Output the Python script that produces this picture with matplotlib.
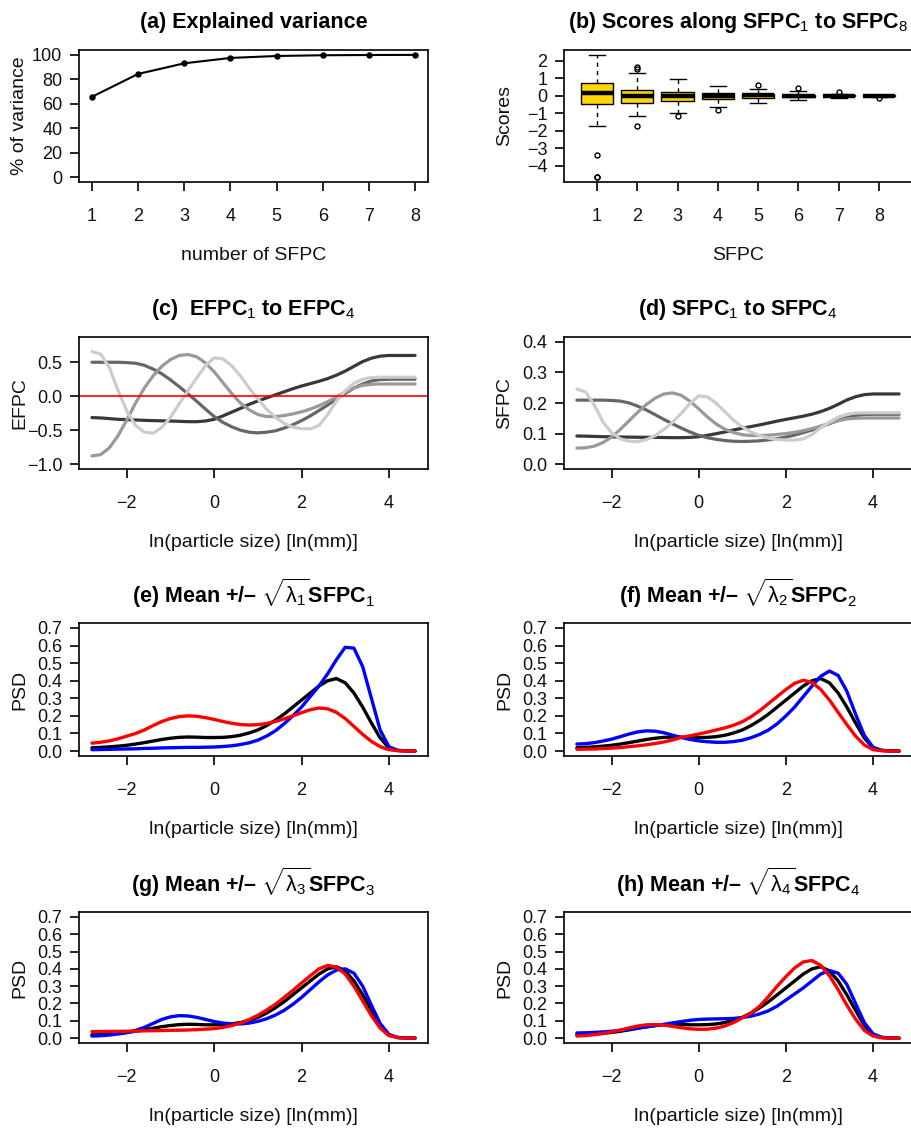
import matplotlib
matplotlib.use('Agg')
import matplotlib.pyplot as plt
from matplotlib.ticker import FuncFormatter
from matplotlib.transforms import offset_copy

plt.rcParams['font.family'] = ['Liberation Sans', 'DejaVu Sans']
plt.rcParams['mathtext.fontset'] = 'custom'
plt.rcParams['mathtext.rm'] = 'Liberation Sans'
plt.rcParams['mathtext.it'] = 'Liberation Sans:italic'
plt.rcParams['mathtext.bf'] = 'Liberation Sans:bold'
plt.rcParams['mathtext.default'] = 'rm'

# ---------------- data ----------------
N_SFPC = [1, 2, 3, 4, 5, 6, 7, 8]
VAR_EXPLAINED = [65.7, 84.4, 93.1, 97.5, 99.1, 99.7, 99.9, 100.0]

BOX_Q1 = [-0.47, -0.40, -0.31, -0.20, -0.12, -0.06, -0.035, -0.02]
BOX_MED = [0.13, -0.02, -0.02, 0.0, 0.02, 0.0, 0.0, 0.0]
BOX_Q3 = [0.74, 0.33, 0.24, 0.18, 0.10, 0.06, 0.035, 0.02]
WHIS_LO = [-1.75, -1.16, -1.01, -0.66, -0.40, -0.22, -0.10, -0.06]
WHIS_HI = [2.33, 1.28, 0.95, 0.53, 0.36, 0.25, 0.12, 0.06]
OUTLIERS = [[-3.37, -4.62, -4.64], [1.50, 1.64, -1.73], [-1.13], [-0.82],
            [0.61], [0.44], [0.20], [-0.15]]

XG = [-2.8, -2.6, -2.4, -2.2, -2.0, -1.8, -1.6, -1.4, -1.2, -1.0,
      -0.8, -0.6, -0.4, -0.2, 0.0, 0.2, 0.4, 0.6, 0.8, 1.0,
      1.2, 1.4, 1.6, 1.8, 2.0, 2.2, 2.4, 2.6, 2.8, 3.0,
      3.2, 3.4, 3.6, 3.8, 4.0, 4.2, 4.4, 4.6]

EFPC1 = [-0.315, -0.32, -0.33, -0.34, -0.345, -0.35, -0.355, -0.36, -0.362, -0.365,
         -0.37, -0.375, -0.375, -0.365, -0.34, -0.29, -0.235, -0.18, -0.12, -0.07,
         -0.025, 0.02, 0.065, 0.11, 0.15, 0.185, 0.22, 0.26, 0.31, 0.37,
         0.44, 0.51, 0.56, 0.59, 0.6, 0.6, 0.6, 0.6]
EFPC2 = [0.5, 0.5, 0.5, 0.5, 0.495, 0.485, 0.455, 0.40, 0.33, 0.24,
         0.14, 0.035, -0.075, -0.19, -0.30, -0.385, -0.45, -0.50, -0.53, -0.54,
         -0.53, -0.51, -0.47, -0.42, -0.36, -0.29, -0.21, -0.13, -0.04, 0.04,
         0.12, 0.18, 0.225, 0.245, 0.25, 0.25, 0.25, 0.25]
EFPC3 = [-0.88, -0.86, -0.76, -0.58, -0.35, -0.1, 0.12, 0.3, 0.44, 0.54,
         0.6, 0.615, 0.58, 0.49, 0.36, 0.2, 0.04, -0.1, -0.2, -0.27,
         -0.3, -0.3, -0.285, -0.26, -0.23, -0.19, -0.14, -0.08, -0.01, 0.06,
         0.12, 0.16, 0.175, 0.18, 0.18, 0.18, 0.18, 0.18]
EFPC4 = [0.66, 0.62, 0.42, 0.08, -0.22, -0.43, -0.53, -0.545, -0.46, -0.31,
         -0.11, 0.08, 0.27, 0.45, 0.565, 0.55, 0.45, 0.3, 0.12, -0.04,
         -0.19, -0.31, -0.40, -0.455, -0.48, -0.48, -0.43, -0.27, -0.07, 0.08,
         0.19, 0.25, 0.275, 0.28, 0.28, 0.28, 0.28, 0.28]

SFPC1 = [0.092, 0.0915, 0.0906, 0.0897, 0.0892, 0.0888, 0.0884, 0.0879, 0.0877, 0.0875,
         0.0870, 0.0866, 0.0866, 0.0875, 0.0897, 0.0943, 0.0996, 0.1052, 0.1118, 0.1175,
         0.1229, 0.1285, 0.1345, 0.1407, 0.1464, 0.1516, 0.157, 0.1634, 0.1718, 0.1824,
         0.1957, 0.2098, 0.2206, 0.2273, 0.2296, 0.2296, 0.2296, 0.2296]
SFPC2 = [0.2094, 0.2094, 0.2094, 0.2094, 0.2083, 0.2062, 0.2002, 0.1895, 0.1767, 0.1615,
         0.1461, 0.1315, 0.1178, 0.1050, 0.0941, 0.0864, 0.0810, 0.0771, 0.0748, 0.0740,
         0.0748, 0.0763, 0.0794, 0.0834, 0.0886, 0.0950, 0.1030, 0.1115, 0.1220, 0.1322,
         0.1432, 0.1521, 0.1590, 0.1623, 0.1631, 0.1631, 0.1631, 0.1631]
SFPC3 = [0.0523, 0.0533, 0.0589, 0.0705, 0.0888, 0.1140, 0.1420, 0.1701, 0.1957, 0.2162,
         0.2296, 0.2331, 0.2250, 0.2057, 0.1806, 0.1539, 0.1312, 0.1140, 0.1032, 0.0962,
         0.0934, 0.0934, 0.0948, 0.0971, 0.1001, 0.1042, 0.1095, 0.1163, 0.1247, 0.1338,
         0.1420, 0.1479, 0.1501, 0.1509, 0.1509, 0.1509, 0.1509, 0.1509]
SFPC4 = [0.2457, 0.2361, 0.1933, 0.1376, 0.1019, 0.0826, 0.0748, 0.0736, 0.0802, 0.0931,
         0.1138, 0.1376, 0.1664, 0.1991, 0.2234, 0.2201, 0.1991, 0.1714, 0.1432, 0.1220,
         0.1050, 0.0931, 0.0851, 0.0806, 0.0786, 0.0786, 0.0826, 0.0969, 0.1184, 0.1376,
         0.1536, 0.1631, 0.1672, 0.1680, 0.1680, 0.1680, 0.1680, 0.1680]

MEAN_PSD = [0.019, 0.021, 0.024, 0.028, 0.033, 0.04, 0.048, 0.057, 0.066, 0.073,
            0.078, 0.08, 0.079, 0.077, 0.077, 0.078, 0.082, 0.09, 0.103, 0.12,
            0.145, 0.175, 0.21, 0.25, 0.29, 0.33, 0.37, 0.40, 0.412, 0.388,
            0.33, 0.25, 0.16, 0.075, 0.018, 0.004, 0.001, 0.0]

PLUS_PSD = [  # mean + sqrt(lambda_k) SFPC_k  (blue)
    [0.008, 0.009, 0.01, 0.011, 0.012, 0.013, 0.015, 0.016, 0.018, 0.019,
     0.02, 0.021, 0.021, 0.022, 0.023, 0.026, 0.03, 0.037, 0.047, 0.062,
     0.085, 0.115, 0.155, 0.2, 0.25, 0.31, 0.37, 0.44, 0.52, 0.59,
     0.585, 0.48, 0.3, 0.12, 0.025, 0.004, 0.001, 0.0],
    [0.04, 0.042, 0.048, 0.057, 0.068, 0.082, 0.097, 0.109, 0.115, 0.113,
     0.104, 0.09, 0.077, 0.066, 0.058, 0.053, 0.05, 0.05, 0.054, 0.062,
     0.076, 0.095, 0.12, 0.155, 0.2, 0.25, 0.31, 0.37, 0.425, 0.455,
     0.43, 0.34, 0.21, 0.09, 0.022, 0.004, 0.001, 0.0],
    [0.012, 0.014, 0.018, 0.024, 0.032, 0.045, 0.062, 0.085, 0.108, 0.123,
     0.13, 0.128, 0.12, 0.108, 0.096, 0.087, 0.082, 0.082, 0.087, 0.097,
     0.112, 0.133, 0.16, 0.195, 0.235, 0.28, 0.325, 0.365, 0.393, 0.4,
     0.375, 0.3, 0.19, 0.085, 0.022, 0.004, 0.001, 0.0],
    [0.03, 0.031, 0.033, 0.036, 0.04, 0.045, 0.051, 0.058, 0.065, 0.072,
     0.08, 0.088, 0.096, 0.103, 0.108, 0.11, 0.111, 0.112, 0.114, 0.119,
     0.127, 0.14, 0.158, 0.185, 0.22, 0.255, 0.29, 0.33, 0.37, 0.39,
     0.375, 0.31, 0.2, 0.09, 0.025, 0.005, 0.001, 0.0],
]
MINUS_PSD = [  # mean - sqrt(lambda_k) SFPC_k  (red)
    [0.045, 0.05, 0.058, 0.07, 0.085, 0.1, 0.12, 0.145, 0.168, 0.185,
     0.196, 0.2, 0.198, 0.19, 0.18, 0.168, 0.158, 0.151, 0.148, 0.15,
     0.157, 0.168, 0.183, 0.2, 0.218, 0.235, 0.245, 0.24, 0.22, 0.185,
     0.14, 0.095, 0.055, 0.025, 0.008, 0.002, 0.0, 0.0],
    [0.01, 0.011, 0.012, 0.014, 0.017, 0.02, 0.025, 0.03, 0.036, 0.043,
     0.052, 0.063, 0.078, 0.087, 0.097, 0.108, 0.12, 0.132, 0.147, 0.167,
     0.195, 0.23, 0.27, 0.31, 0.35, 0.385, 0.403, 0.39, 0.35, 0.29,
     0.22, 0.15, 0.085, 0.035, 0.008, 0.002, 0.0, 0.0],
    [0.038, 0.038, 0.039, 0.039, 0.04, 0.041, 0.042, 0.043, 0.044, 0.045,
     0.046, 0.047, 0.049, 0.052, 0.055, 0.062, 0.072, 0.087, 0.107, 0.132,
     0.162, 0.195, 0.235, 0.275, 0.318, 0.36, 0.4, 0.42, 0.41, 0.37,
     0.3, 0.215, 0.13, 0.058, 0.015, 0.003, 0.0, 0.0],
    [0.012, 0.015, 0.02, 0.027, 0.036, 0.047, 0.059, 0.07, 0.077, 0.078,
     0.075, 0.068, 0.06, 0.054, 0.051, 0.052, 0.058, 0.07, 0.09, 0.117,
     0.145, 0.185, 0.24, 0.3, 0.355, 0.405, 0.44, 0.448, 0.42, 0.36,
     0.28, 0.19, 0.11, 0.045, 0.012, 0.002, 0.0, 0.0],
]

TITLES = ['(a) Explained variance',
          '(b) Scores along SFPC$_1$ to SFPC$_8$',
          '(c)  EFPC$_1$ to EFPC$_4$',
          '(d) SFPC$_1$ to SFPC$_4$',
          r'(e) Mean +/– $\sqrt{\lambda_1}$SFPC$_1$',
          r'(f) Mean +/– $\sqrt{\lambda_2}$SFPC$_2$',
          r'(g) Mean +/– $\sqrt{\lambda_3}$SFPC$_3$',
          r'(h) Mean +/– $\sqrt{\lambda_4}$SFPC$_4$']
XLAB_SIZE = 'ln(particle size) [ln(mm)]'
GREYS = ['#383838', '#666666', '#999999', '#CCCCCC']

# ---------------- layout ----------------
W, H = 911, 1131
fig = plt.figure(figsize=(W / 100, H / 100), dpi=100)

COLS = [(79, 428), (564, 912)]
ROWS = [(50, 182), (337, 469), (623, 756), (912, 1043)]
TITLE_GAP = [22, 22, 20, 20]

TICK_FS = 13
LAB_FS = 14
TITLE_FS = 15.5
LW_FRAME = 1.2


def make_ax(r, c):
    x0, x1 = COLS[c]
    y0, y1 = ROWS[r]
    return fig.add_axes([x0 / W, 1 - y1 / H, (x1 - x0) / W, (y1 - y0) / H])


def r_style(ax, r, title, xlabel, ylabel):
    for s in ax.spines.values():
        s.set_linewidth(LW_FRAME)
        s.set_color('black')
    ax.tick_params(direction='out', length=6.5, width=LW_FRAME, labelsize=TICK_FS,
                   color='black', labelcolor='#111111')
    ax.tick_params(axis='x', pad=12.5)
    ax.tick_params(axis='y', pad=5.5)
    t = offset_copy(ax.transAxes, fig=fig, y=TITLE_GAP[r], units='dots')
    ax.text(0.5, 1.0, title, transform=t, ha='center', va='baseline',
            fontsize=TITLE_FS, fontweight='bold')
    t = offset_copy(ax.transAxes, fig=fig, y=-78, units='dots')
    ax.text(0.5, 0.0, xlabel, transform=t, ha='center', va='baseline',
            fontsize=LAB_FS, color='#111111')
    t = offset_copy(ax.transAxes, fig=fig, x=-59, units='dots')
    ax.text(0.0, 0.5, ylabel, transform=t, ha='center', va='center',
            rotation=90, fontsize=LAB_FS, color='#111111')


def fmt1(v, pos):
    return f'{v:.1f}'.replace('-', '\u2212')


def r_lim(vals, ext=0.04):
    lo, hi = min(vals), max(vals)
    d = (hi - lo) * ext
    return lo - d, hi + d


XLIM = r_lim(XG)

# (a) explained variance
ax = make_ax(0, 0)
ax.plot(N_SFPC, VAR_EXPLAINED, color='black', lw=1.5, marker='o', ms=3.6,
        solid_capstyle='round')
ax.set_xlim(*r_lim(N_SFPC))
ax.set_ylim(*r_lim([0, 100]))
ax.set_xticks(N_SFPC)
ax.set_yticks([0, 20, 40, 60, 80, 100])
r_style(ax, 0, TITLES[0], 'number of SFPC', '% of variance')

# (b) boxplots of scores
ax = make_ax(0, 1)
stats = []
for i in range(len(N_SFPC)):
    stats.append(dict(q1=BOX_Q1[i], med=BOX_MED[i], q3=BOX_Q3[i],
                      whislo=WHIS_LO[i], whishi=WHIS_HI[i], fliers=OUTLIERS[i]))
ax.bxp(stats, positions=N_SFPC, widths=0.8, patch_artist=True, capwidths=0.4,
       boxprops=dict(facecolor='#FFD700', edgecolor='black', linewidth=1.0),
       medianprops=dict(color='black', linewidth=3.2, solid_capstyle='butt'),
       whiskerprops=dict(color='black', linewidth=1.0, linestyle=(0, (3, 3))),
       capprops=dict(color='black', linewidth=1.0),
       flierprops=dict(marker='o', markerfacecolor='none', markeredgecolor='black',
                       markersize=3.6, markeredgewidth=1.0))
allv = [v for o in OUTLIERS for v in o] + WHIS_LO + WHIS_HI
ax.set_xlim(*r_lim([0.5, len(N_SFPC) + 0.5]))
ax.set_ylim(*r_lim(allv))
ax.set_xticks(N_SFPC)
ax.set_xticklabels([str(n) for n in N_SFPC])
ax.set_yticks([-4, -3, -2, -1, 0, 1, 2])
r_style(ax, 0, TITLES[1], 'SFPC', 'Scores')

# (c) EFPC
ax = make_ax(1, 0)
for k, ser in enumerate([EFPC1, EFPC2, EFPC3, EFPC4]):
    ax.plot(XG, ser, color=GREYS[k], lw=2.3, solid_capstyle='round')
ax.axhline(0, color='#FF0000', lw=1.2)
ax.set_xlim(*XLIM)
ax.set_ylim(*r_lim([-1.0, 0.8]))
ax.set_xticks([-2, 0, 2, 4])
ax.set_yticks([-1.0, -0.5, 0.0, 0.5])
ax.yaxis.set_major_formatter(FuncFormatter(fmt1))
r_style(ax, 1, TITLES[2], XLAB_SIZE, 'EFPC')

# (d) SFPC
ax = make_ax(1, 1)
for k, ser in enumerate([SFPC1, SFPC2, SFPC3, SFPC4]):
    ax.plot(XG, ser, color=GREYS[k], lw=2.3, solid_capstyle='round')
ax.set_xlim(*XLIM)
ax.set_ylim(*r_lim([0.0, 0.4]))
ax.set_xticks([-2, 0, 2, 4])
ax.set_yticks([0.0, 0.1, 0.2, 0.3, 0.4])
ax.yaxis.set_major_formatter(FuncFormatter(fmt1))
r_style(ax, 1, TITLES[3], XLAB_SIZE, 'SFPC')

# (e)-(h) mean +/- sqrt(lambda) SFPC
for k in range(4):
    r, c = 2 + k // 2, k % 2
    ax = make_ax(r, c)
    ax.plot(XG, MEAN_PSD, color='black', lw=2.4, solid_capstyle='round')
    ax.plot(XG, PLUS_PSD[k], color='#0000FF', lw=2.4, solid_capstyle='round')
    ax.plot(XG, MINUS_PSD[k], color='#FF0000', lw=2.4, solid_capstyle='round')
    ax.set_xlim(*XLIM)
    ax.set_ylim(*r_lim([0.0, 0.7]))
    ax.set_xticks([-2, 0, 2, 4])
    ax.set_yticks([0.0, 0.1, 0.2, 0.3, 0.4, 0.5, 0.6, 0.7])
    ax.yaxis.set_major_formatter(FuncFormatter(fmt1))
    r_style(ax, r, TITLES[4 + k], XLAB_SIZE, 'PSD')

fig.savefig('out.png', dpi=100)
